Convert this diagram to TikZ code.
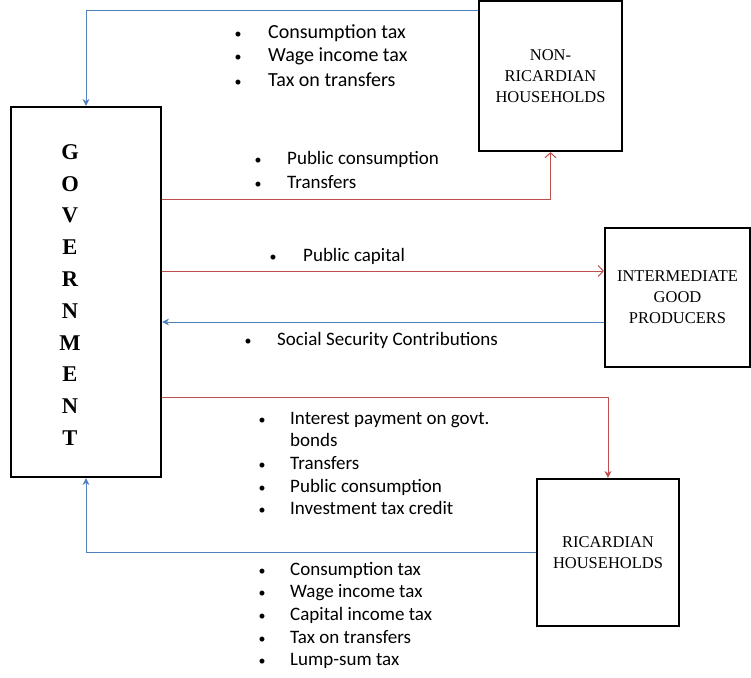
\documentclass[tikz,border=0pt]{standalone}
\usepackage{fontspec}
\setmainfont{Carlito}
\newfontfamily\boxfont{Liberation Serif}
\usetikzlibrary{arrows.meta}
\definecolor{ablue}{RGB}{79,129,189}
\definecolor{ared}{RGB}{192,80,77}
\tikzset{
  agent/.style={draw=black, line width=2.2pt, align=center, inner sep=0pt,
    font=\boxfont\fontsize{16.5}{21}\selectfont},
  bluearrow/.style={draw=ablue, line width=1pt, -{Stealth[length=7pt,width=7pt]}},
  redfill/.style={draw=ared, line width=1pt, -{Stealth[length=7pt,width=7pt]}},
  redopen/.style={draw=ared, line width=1pt, -{Straight Barb[length=5pt,width=11pt]}},
  itemtxt/.style={anchor=base west, inner sep=0pt, font=\fontsize{19}{22}\selectfont},
  bigtxt/.style={itemtxt, font=\fontsize{20}{23}\selectfont},
  bullettxt/.style={anchor=base, inner sep=0pt, font=\fontsize{14}{22}\selectfont},
}
\begin{document}
\begin{tikzpicture}[x=1pt,y=-1pt]
\useasboundingbox (0,0) rectangle (751,677);

\node[agent, minimum width=150pt, minimum height=370pt] (gov) at (86,292) {};
\node[inner sep=0pt, align=center,
  font=\boxfont\bfseries\fontsize{22.5}{31.8}\selectfont] (govtxt) at (70,295)
  {G\\O\\V\\E\\R\\N\\M\\E\\N\\T};
\node[agent, minimum width=143pt, minimum height=150pt] (nrh) at (550.5,76)
  {NON-\\RICARDIAN\\HOUSEHOLDS};
\node[agent, minimum width=145pt, minimum height=139pt] (inter) at (677.5,297.5)
  {INTERMEDIATE\\GOOD\\PRODUCERS};
\node[agent, minimum width=142pt, minimum height=147pt] (ric) at (608,552.5)
  {RICARDIAN\\HOUSEHOLDS};

\draw[bluearrow] (nrh.west |- 0,11) -| (gov.north);
\draw[redopen] (gov.east |- 0,199) -| (nrh.south);
\draw[redopen] (gov.east |- 0,271) -- (inter.west |- 0,271);
\draw[bluearrow] (inter.west |- 0,322) -- (gov.east |- 0,322);
\draw[redfill] (gov.east |- 0,397) -| (ric.north);
\draw[bluearrow] (ric.west |- 0,552) -| (gov.south);

% top list
\node[bullettxt] (t1b) at (238,38) {\textbullet};
\node[bigtxt] (t1) at (268,38) {Consumption tax};
\node[bullettxt] (t2b) at (238,62) {\textbullet};
\node[bigtxt] (t2) at (268,62) {Wage income tax};
\node[bullettxt] (t3b) at (238,86) {\textbullet};
\node[bigtxt] (t3) at (268,86) {Tax on transfers};

% to NRH
\node[bullettxt] (n1b) at (258,164) {\textbullet};
\node[itemtxt] (n1) at (287,164) {Public consumption};
\node[bullettxt] (n2b) at (258,188) {\textbullet};
\node[itemtxt] (n2) at (287,188) {Transfers};

% intermediate
\node[bullettxt] (p1b) at (273,261) {\textbullet};
\node[itemtxt] (p1) at (303,261) {Public capital};
\node[bullettxt] (s1b) at (248,345) {\textbullet};
\node[itemtxt] (s1) at (277,345) {Social Security Contributions};

% to Ricardian
\node[bullettxt] (r1b) at (262,424) {\textbullet};
\node[itemtxt] (r1) at (290,424) {Interest payment on govt.};
\node[itemtxt] (r1x) at (290,446.5) {bonds};
\node[bullettxt] (r2b) at (262,469) {\textbullet};
\node[itemtxt] (r2) at (290,469) {Transfers};
\node[bullettxt] (r3b) at (262,492) {\textbullet};
\node[itemtxt] (r3) at (290,492) {Public consumption};
\node[bullettxt] (r4b) at (262,514.5) {\textbullet};
\node[itemtxt] (r4) at (290,514.5) {Investment tax credit};

% from Ricardian
\node[bullettxt] (f1b) at (262,575) {\textbullet};
\node[itemtxt] (f1) at (290,575) {Consumption tax};
\node[bullettxt] (f2b) at (262,597.5) {\textbullet};
\node[itemtxt] (f2) at (290,597.5) {Wage income tax};
\node[bullettxt] (f3b) at (262,620) {\textbullet};
\node[itemtxt] (f3) at (290,620) {Capital income tax};
\node[bullettxt] (f4b) at (262,643) {\textbullet};
\node[itemtxt] (f4) at (290,643) {Tax on transfers};
\node[bullettxt] (f5b) at (262,665.5) {\textbullet};
\node[itemtxt] (f5) at (290,665.5) {Lump-sum tax};
\end{tikzpicture}
\end{document}
